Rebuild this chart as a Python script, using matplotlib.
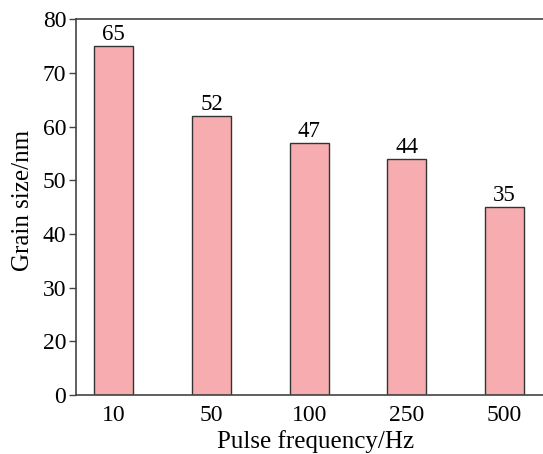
import matplotlib.pyplot as plt
import numpy as np

# Dati
frequencies = ['10', '50', '100', '250', '500']
grain_sizes = [65, 52, 47, 44, 35]
# Etichette dell'asse Y come appaiono nel grafico originale
y_tick_labels = ['0', '20', '30', '40', '50', '60', '70', '80']

plt.rcParams['font.family'] = ['Liberation Serif', 'DejaVu Serif']

fig = plt.figure(figsize=(5.43, 4.54), dpi=100)
ax = fig.add_axes([0.14, 0.13, 0.86, 0.8275])

index = np.arange(len(frequencies))
bars = ax.bar(index, grain_sizes, 0.4, color='#F7ADAF', edgecolor='#333333', linewidth=1.0)

# Etichette sopra le barre
for x, v in zip(index, grain_sizes):
    ax.text(x, v + 0.2, str(v), ha='center', va='bottom', fontsize=16.5)

ax.set_xlim(-0.387, 4.393)
ax.set_ylim(0, 70)
ax.set_xticks(index)
ax.set_xticklabels(frequencies)
ax.set_yticks(np.arange(0, 71, 10))
ax.set_yticklabels(y_tick_labels)

ax.tick_params(axis='x', length=0, labelsize=17, pad=7)
ax.tick_params(axis='y', direction='out', length=5, width=1, labelsize=17, color='#444444', pad=2)

for side in ['left', 'bottom', 'top']:
    ax.spines[side].set_color('#444444')
    ax.spines[side].set_linewidth(1.2)
ax.spines['right'].set_visible(False)

ax.set_xlabel('Pulse frequency/Hz', fontsize=18)
ax.set_ylabel('Grain size/nm', fontsize=18)
ax.xaxis.set_label_coords(0.514, -0.093)
ax.yaxis.set_label_coords(-0.09, 0.519)

plt.savefig('out.png', dpi=100)
